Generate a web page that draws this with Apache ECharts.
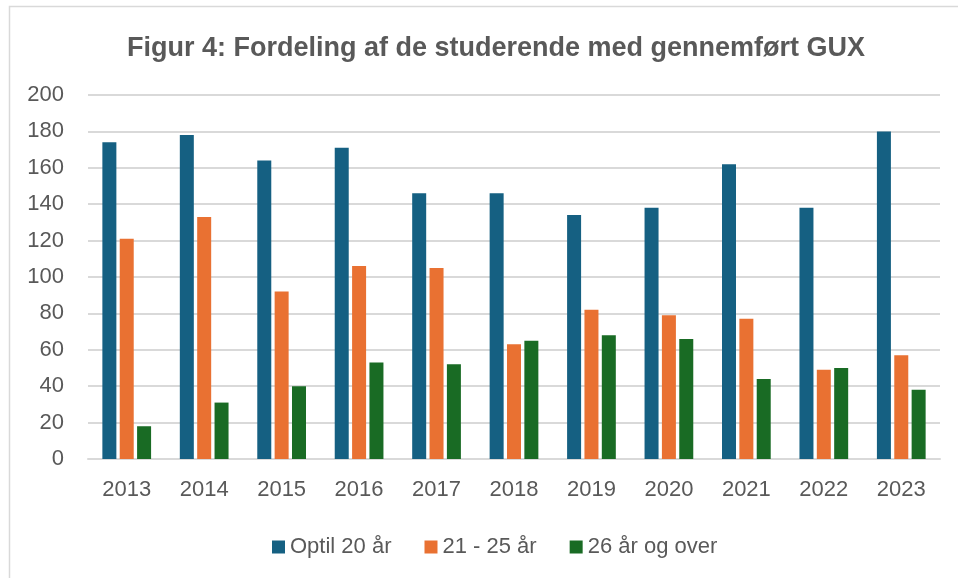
<!DOCTYPE html>
<html>
<head>
<meta charset="utf-8">
<script src="https://cdn.jsdelivr.net/npm/echarts@6/dist/echarts.min.js"></script>
<style>
  html, body { margin: 0; padding: 0; background: #fff; }
  #chart { width: 958px; height: 578px; }
</style>
</head>
<body>
<div id="chart"></div>
<script>
// data
const years = ['2013', '2014', '2015', '2016', '2017', '2018', '2019', '2020', '2021', '2022', '2023'];
const optil20 = [174, 178, 164, 171, 146, 146, 134, 138, 162, 138, 180];
const aar21til25 = [121, 133, 92, 106, 105, 63, 82, 79, 77, 49, 57];
const aar26plus = [18, 31, 40, 53, 52, 65, 68, 66, 44, 50, 38];
const seriesNames = ['Optil 20 år', '21 - 25 år', '26 år og over'];

const font = 'Liberation Sans, Arial, sans-serif';
const textColor = '#595959';

const chart = echarts.init(document.getElementById('chart'), null, { renderer: 'canvas' });

const barSeries = (name, data, color) => ({
  name,
  type: 'bar',
  data,
  barWidth: 14,
  barGap: '24%',
  itemStyle: { color },
  emphasis: { disabled: true },
});

chart.setOption({
  animation: false,
  backgroundColor: '#fff',
  graphic: [
    {
      type: 'rect',
      shape: { x: 9.5, y: 6.5, width: 1000, height: 1000 },
      style: { fill: 'none', stroke: '#d9d9d9', lineWidth: 1.5 },
      silent: true,
    },
  ],
  title: {
    text: 'Figur 4: Fordeling af de studerende med gennemført GUX',
    left: 491,
    top: 30,
    textAlign: 'center',
    textStyle: { fontFamily: font, fontSize: 27, fontWeight: 'bold', color: textColor },
  },
  grid: { left: 88, right: 18, top: 95, bottom: 119 },
  legend: {
    data: seriesNames,
    top: 531,
    left: 267,
    icon: 'rect',
    itemWidth: 13,
    itemHeight: 13,
    itemGap: 33,
    textStyle: { fontFamily: font, fontSize: 22, color: textColor },
  },
  xAxis: {
    type: 'category',
    data: years,
    axisLine: { lineStyle: { color: '#d9d9d9', width: 2 } },
    axisTick: { show: false },
    axisLabel: { fontFamily: font, fontSize: 22, color: textColor, margin: 20 },
  },
  yAxis: {
    type: 'value',
    min: 0,
    max: 200,
    interval: 20,
    axisLine: { show: false },
    axisTick: { show: false },
    axisLabel: { fontFamily: font, fontSize: 22, color: textColor, margin: 24 },
    splitLine: { lineStyle: { color: '#d9d9d9', width: 2 } },
  },
  series: [
    barSeries(seriesNames[0], optil20, '#156082'),
    barSeries(seriesNames[1], aar21til25, '#E97132'),
    barSeries(seriesNames[2], aar26plus, '#196B24'),
  ],
});
</script>
</body>
</html>
